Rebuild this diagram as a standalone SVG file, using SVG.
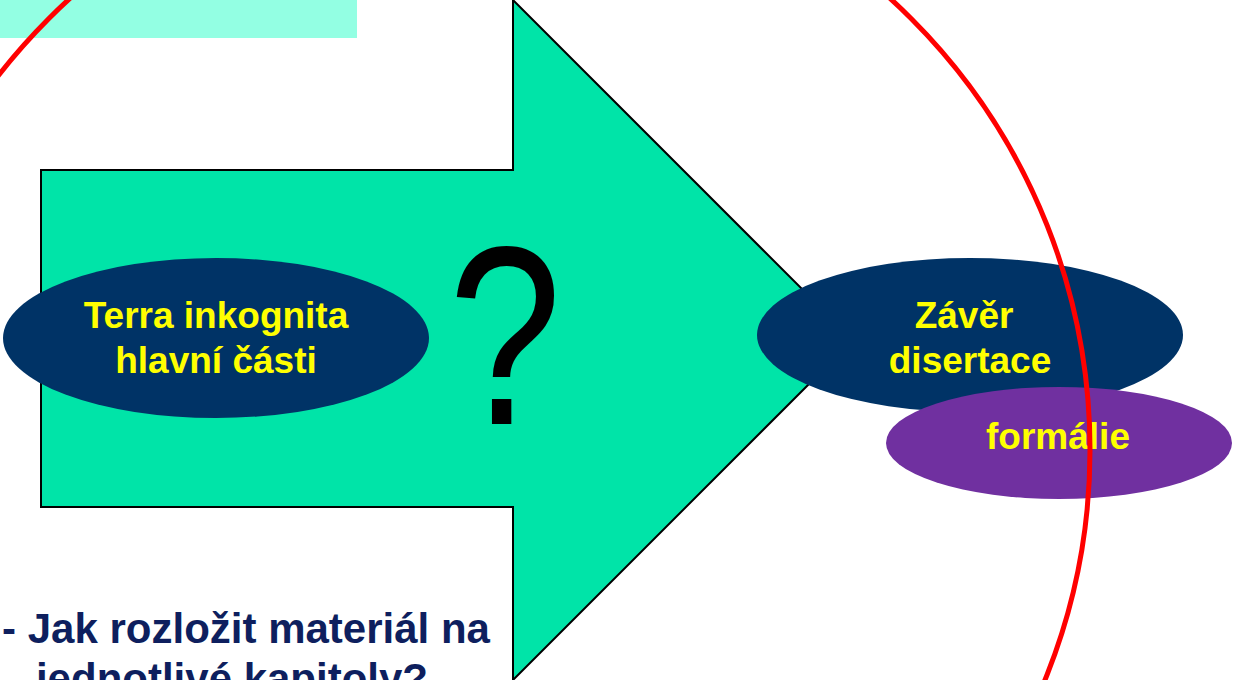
<svg xmlns="http://www.w3.org/2000/svg" width="1236" height="680" viewBox="0 0 1236 680">
<style>
.lbl{font-family:"Liberation Sans",Arial,sans-serif;font-weight:bold;font-size:37px;fill:#FFFF00;text-anchor:middle}
.q{font-family:"Liberation Sans",Arial,sans-serif;font-size:254px;fill:#000;text-anchor:middle}
.btm{font-family:"Liberation Sans",Arial,sans-serif;font-weight:bold;font-size:42px;fill:#0E1F5E;text-anchor:middle}
</style>
<rect width="1236" height="680" fill="#fff"/>
<rect x="0" y="0" width="357" height="38" fill="#93FFE3"/>
<g id="arrow">
<polygon points="41,170 513,170 513,0 853,340 513,680 513,507 41,507" fill="#00E4A8" stroke="#000" stroke-width="2"/>
</g>
<text class="q" transform="translate(505,424) scale(0.8,1)">?</text>
<g id="node-terra">
<ellipse cx="216" cy="338" rx="213" ry="80" fill="#003366"/>
<text class="lbl" x="216" y="328">Terra inkognita</text>
<text class="lbl" x="216" y="373">hlavní části</text>
</g>
<g id="node-zaver">
<ellipse cx="970" cy="335" rx="213" ry="77" fill="#003366"/>
<text class="lbl" x="964" y="328">Závěr</text>
<text class="lbl" x="970" y="373">disertace</text>
</g>
<g id="node-formalie">
<ellipse cx="1059" cy="443" rx="173" ry="56" fill="#7030A0"/>
<text class="lbl" x="1058" y="449">formálie</text>
</g>
<circle cx="480" cy="450" r="610" fill="none" stroke="#FF0000" stroke-width="5"/>
<text class="btm" x="246" y="643">- Jak rozložit materiál na</text>
<text class="btm" x="232" y="693">jednotlivé kapitoly?</text>
<g id="connectors"/>
</svg>
